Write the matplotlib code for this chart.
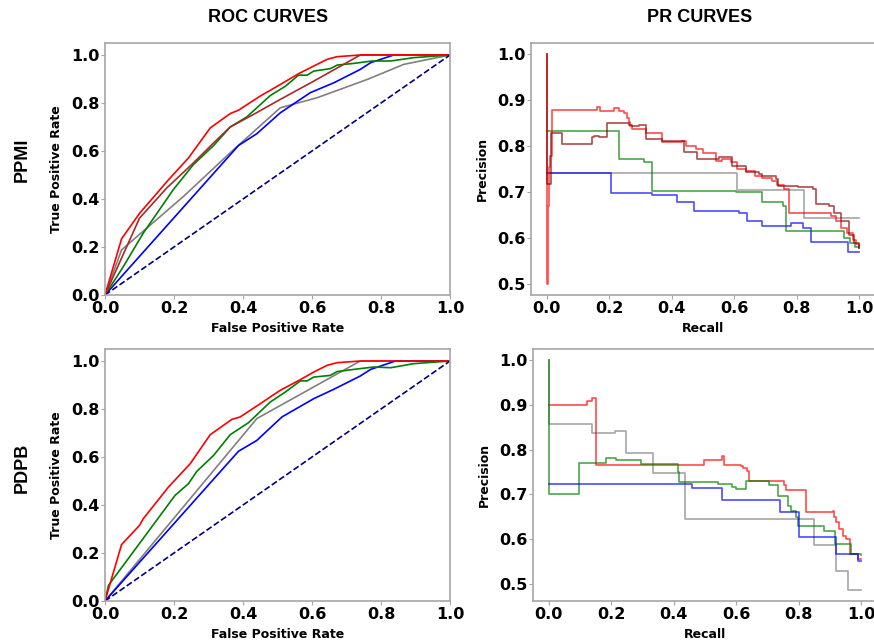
import matplotlib
matplotlib.use("Agg")
import matplotlib.pyplot as plt

# ---- ROC data, PPMI ----
ppmi_roc_red_fpr = [0, 0.048, 0.10, 0.184, 0.242, 0.305, 0.363, 0.387, 0.45, 0.508, 0.561, 0.605, 0.644, 0.673, 0.74, 1.0]
ppmi_roc_red_tpr = [0, 0.234, 0.34, 0.48, 0.571, 0.696, 0.756, 0.77, 0.829, 0.877, 0.922, 0.954, 0.982, 0.993, 1.0, 1.0]
ppmi_roc_brown_fpr = [0, 0.10, 0.179, 0.256, 0.315, 0.363, 0.43, 0.508, 0.605, 0.74, 1.0]
ppmi_roc_brown_tpr = [0, 0.32, 0.446, 0.55, 0.634, 0.70, 0.752, 0.815, 0.891, 1.0, 1.0]
ppmi_roc_green_fpr = [0, 0.053, 0.111, 0.198, 0.256, 0.315, 0.363, 0.411, 0.479, 0.523, 0.561, 0.586, 0.605, 0.653, 0.673, 0.721, 0.774, 0.828, 0.895, 1.0]
ppmi_roc_green_tpr = [0, 0.118, 0.258, 0.439, 0.543, 0.623, 0.70, 0.742, 0.831, 0.870, 0.916, 0.916, 0.933, 0.943, 0.958, 0.965, 0.975, 0.975, 0.989, 1.0]
ppmi_roc_gray_fpr = [0, 0.048, 0.227, 0.373, 0.508, 0.615, 0.76, 0.866, 1.0]
ppmi_roc_gray_tpr = [0, 0.188, 0.41, 0.606, 0.78, 0.822, 0.898, 0.961, 1.0]
ppmi_roc_blue_fpr = [0, 0.387, 0.44, 0.508, 0.595, 0.663, 0.74, 0.77, 0.837, 1.0]
ppmi_roc_blue_tpr = [0, 0.623, 0.672, 0.759, 0.843, 0.884, 0.94, 0.968, 1.0, 1.0]

# ---- ROC data, PDPB ----
pdpb_roc_red_fpr = [0, 0.048, 0.10, 0.111, 0.184, 0.247, 0.305, 0.368, 0.392, 0.45, 0.508, 0.566, 0.605, 0.644, 0.673, 0.74, 1.0]
pdpb_roc_red_tpr = [0, 0.235, 0.315, 0.343, 0.475, 0.572, 0.693, 0.757, 0.767, 0.822, 0.878, 0.922, 0.954, 0.982, 0.993, 1.0, 1.0]
pdpb_roc_green_fpr = [0, 0.01, 0.203, 0.242, 0.266, 0.315, 0.363, 0.416, 0.479, 0.523, 0.566, 0.586, 0.605, 0.653, 0.673, 0.721, 0.779, 0.828, 0.895, 1.0]
pdpb_roc_green_tpr = [0, 0.065, 0.44, 0.489, 0.54, 0.607, 0.693, 0.743, 0.829, 0.871, 0.917, 0.917, 0.933, 0.94, 0.956, 0.965, 0.975, 0.972, 0.989, 1.0]
pdpb_roc_gray_fpr = [0, 0.44, 0.74, 1.0]
pdpb_roc_gray_tpr = [0, 0.76, 1.0, 1.0]
pdpb_roc_blue_fpr = [0, 0.387, 0.44, 0.513, 0.605, 0.663, 0.74, 0.77, 0.842, 1.0]
pdpb_roc_blue_tpr = [0, 0.624, 0.669, 0.767, 0.843, 0.882, 0.9375, 0.965, 1.0, 1.0]

chance = [0, 1]

# ---- PR data, PPMI (step, where='post') ----
ppmi_pr_red_rec = [0.0, 0.0, 0.004, 0.006, 0.01, 0.018, 0.162, 0.17, 0.216, 0.232, 0.248, 0.256, 0.262, 0.268, 0.274, 0.29, 0.317, 0.322, 0.37, 0.434, 0.445, 0.477, 0.50, 0.541, 0.56, 0.589, 0.61, 0.637, 0.665, 0.69, 0.72, 0.738, 0.76, 0.776, 0.909, 0.925, 0.941, 0.96, 0.979, 0.99, 1.0]
ppmi_pr_red_prec = [1.0, 0.5, 0.67, 0.755, 0.778, 0.878, 0.885, 0.876, 0.884, 0.876, 0.872, 0.862, 0.852, 0.844, 0.838, 0.838, 0.828, 0.828, 0.808, 0.812, 0.801, 0.794, 0.785, 0.768, 0.772, 0.765, 0.75, 0.745, 0.735, 0.73, 0.724, 0.715, 0.706, 0.653, 0.647, 0.637, 0.622, 0.611, 0.596, 0.586, 0.58]
ppmi_pr_brown_rec = [0.0, 0.0, 0.013, 0.05, 0.146, 0.152, 0.168, 0.173, 0.194, 0.264, 0.274, 0.296, 0.317, 0.37, 0.434, 0.44, 0.477, 0.482, 0.541, 0.552, 0.594, 0.637, 0.68, 0.69, 0.733, 0.739, 0.797, 0.803, 0.851, 0.861, 0.904, 0.92, 0.941, 0.968, 0.984, 1.0]
ppmi_pr_brown_prec = [1.0, 0.717, 0.828, 0.805, 0.819, 0.823, 0.819, 0.819, 0.851, 0.846, 0.844, 0.845, 0.816, 0.812, 0.812, 0.787, 0.787, 0.772, 0.772, 0.776, 0.757, 0.743, 0.739, 0.735, 0.728, 0.713, 0.713, 0.71, 0.706, 0.673, 0.67, 0.655, 0.637, 0.607, 0.589, 0.578]
ppmi_pr_green_rec = [0.0, 0.232, 0.31, 0.336, 0.605, 0.69, 0.755, 0.765, 0.952, 0.97, 0.985, 1.0]
ppmi_pr_green_prec = [0.832, 0.772, 0.766, 0.702, 0.699, 0.678, 0.67, 0.615, 0.6, 0.589, 0.58, 0.578]
ppmi_pr_blue_rec = [0.0, 0.205, 0.336, 0.418, 0.472, 0.616, 0.64, 0.69, 0.781, 0.819, 0.845, 0.963, 1.0]
ppmi_pr_blue_prec = [0.741, 0.697, 0.693, 0.677, 0.659, 0.655, 0.637, 0.626, 0.633, 0.622, 0.591, 0.569, 0.569]
ppmi_pr_gray_rec = [0.0, 0.61, 0.824, 1.0]
ppmi_pr_gray_prec = [0.741, 0.705, 0.643, 0.643]

# ---- PR data, PDPB ----
pdpb_pr_red_rec = [0.0, 0.124, 0.14, 0.152, 0.496, 0.555, 0.562, 0.616, 0.622, 0.635, 0.64, 0.645, 0.754, 0.76, 0.78, 0.823, 0.908, 0.914, 0.92, 0.93, 0.94, 0.95, 0.965, 0.99, 1.0]
pdpb_pr_red_prec = [0.901, 0.91, 0.916, 0.765, 0.777, 0.787, 0.766, 0.763, 0.76, 0.753, 0.729, 0.731, 0.72, 0.711, 0.711, 0.66, 0.662, 0.649, 0.638, 0.623, 0.608, 0.60, 0.567, 0.555, 0.555]
pdpb_pr_green_rec = [0.0, 0.0, 0.097, 0.184, 0.214, 0.216, 0.296, 0.413, 0.418, 0.541, 0.585, 0.6, 0.63, 0.706, 0.733, 0.765, 0.776, 0.792, 0.798, 0.882, 0.915, 0.967, 1.0]
pdpb_pr_green_prec = [1.0, 0.701, 0.77, 0.781, 0.781, 0.778, 0.768, 0.75, 0.727, 0.724, 0.716, 0.712, 0.731, 0.72, 0.697, 0.675, 0.662, 0.649, 0.63, 0.619, 0.589, 0.567, 0.565]
pdpb_pr_blue_rec = [0.0, 0.459, 0.555, 0.74, 0.802, 0.919, 0.988, 1.0]
pdpb_pr_blue_prec = [0.723, 0.714, 0.688, 0.66, 0.605, 0.567, 0.552, 0.552]
pdpb_pr_gray_rec = [0.0, 0.0, 0.14, 0.211, 0.246, 0.335, 0.435, 0.847, 0.919, 0.956, 1.0]
pdpb_pr_gray_prec = [1.0, 0.858, 0.838, 0.841, 0.792, 0.749, 0.644, 0.587, 0.529, 0.487, 0.487]

W, H = 874, 642
fig = plt.figure(figsize=(W / 100, H / 100), dpi=100)

def px_axes(left, top, right, bottom):
    return fig.add_axes([left / W, 1 - bottom / H, (right - left) / W, (bottom - top) / H])

ax_roc1 = px_axes(105, 43, 450, 295)
ax_roc2 = px_axes(105, 349, 450, 601)
ax_pr1 = px_axes(531, 43, 875, 295)
ax_pr2 = px_axes(533, 349, 877, 601)

tick_font = {"fontsize": 11.5, "fontweight": "bold"}
label_font = {"fontsize": 9, "fontweight": "bold"}

def style(ax):
    for s in ax.spines.values():
        s.set_color("#a6a6a6")
        s.set_linewidth(1.2)
    ax.tick_params(colors="#a6a6a6", labelcolor="black", length=3, pad=1)
    for lab in ax.get_xticklabels() + ax.get_yticklabels():
        lab.set_fontsize(tick_font["fontsize"])
        lab.set_fontweight(tick_font["fontweight"])

# ROC panels
lw = 1.2
ax_roc1.plot(ppmi_roc_gray_fpr, ppmi_roc_gray_tpr, color="gray", lw=lw)
ax_roc1.plot(ppmi_roc_blue_fpr, ppmi_roc_blue_tpr, color="blue", lw=lw)
ax_roc1.plot(ppmi_roc_green_fpr, ppmi_roc_green_tpr, color="green", lw=lw)
ax_roc1.plot(ppmi_roc_brown_fpr, ppmi_roc_brown_tpr, color="brown", lw=lw)
ax_roc1.plot(ppmi_roc_red_fpr, ppmi_roc_red_tpr, color="red", lw=lw)

ax_roc2.plot(pdpb_roc_gray_fpr, pdpb_roc_gray_tpr, color="gray", lw=lw)
ax_roc2.plot(pdpb_roc_blue_fpr, pdpb_roc_blue_tpr, color="blue", lw=lw)
ax_roc2.plot(pdpb_roc_green_fpr, pdpb_roc_green_tpr, color="green", lw=lw)
ax_roc2.plot(pdpb_roc_red_fpr, pdpb_roc_red_tpr, color="red", lw=lw)

for ax in (ax_roc1, ax_roc2):
    ax.plot(chance, chance, color="navy", lw=1.2, linestyle="--")
    ax.set_xlim(0, 1)
    ax.set_ylim(0, 1.05)
    ax.set_xticks([0, 0.2, 0.4, 0.6, 0.8, 1.0])
    ax.set_yticks([0, 0.2, 0.4, 0.6, 0.8, 1.0])
    ax.set_xlabel("False Positive Rate", labelpad=5, **label_font)
    ax.set_ylabel("True Positive Rate", labelpad=6, **label_font)
    style(ax)

# PR panels
a = 0.7
ax_pr1.step(ppmi_pr_gray_rec, ppmi_pr_gray_prec, where="post", color="gray", lw=lw, alpha=a)
ax_pr1.step(ppmi_pr_blue_rec, ppmi_pr_blue_prec, where="post", color="blue", lw=lw, alpha=a)
ax_pr1.step(ppmi_pr_green_rec, ppmi_pr_green_prec, where="post", color="green", lw=lw, alpha=a)
ax_pr1.step(ppmi_pr_red_rec, ppmi_pr_red_prec, where="post", color="red", lw=lw, alpha=a)
ax_pr1.step(ppmi_pr_brown_rec, ppmi_pr_brown_prec, where="post", color="darkred", lw=lw, alpha=a)

ax_pr2.step(pdpb_pr_gray_rec, pdpb_pr_gray_prec, where="post", color="gray", lw=lw, alpha=a)
ax_pr2.step(pdpb_pr_red_rec, pdpb_pr_red_prec, where="post", color="red", lw=lw, alpha=a)
ax_pr2.step(pdpb_pr_green_rec, pdpb_pr_green_prec, where="post", color="green", lw=lw, alpha=a)
ax_pr2.step(pdpb_pr_blue_rec, pdpb_pr_blue_prec, where="post", color="blue", lw=lw, alpha=a)

for ax in (ax_pr1, ax_pr2):
    ax.set_xticks([0, 0.2, 0.4, 0.6, 0.8, 1.0])
    ax.set_yticks([0.5, 0.6, 0.7, 0.8, 0.9, 1.0])
    ax.set_xlabel("Recall", labelpad=5, **label_font)
    ax.set_ylabel("Precision", labelpad=6, **label_font)
    style(ax)

title_font = {"fontsize": 13, "fontweight": "bold", "family": "Liberation Sans"}
fig.text(268 / W, 1 - 18 / H, "ROC CURVES", ha="center", va="center", **title_font)
fig.text(700 / W, 1 - 18 / H, "PR CURVES", ha="center", va="center", **title_font)
fig.text(22 / W, 1 - 160 / H, "PPMI", ha="center", va="center", rotation=90, **title_font)
fig.text(22 / W, 1 - 468 / H, "PDPB", ha="center", va="center", rotation=90, **title_font)

fig.savefig("out.png", dpi=100)
